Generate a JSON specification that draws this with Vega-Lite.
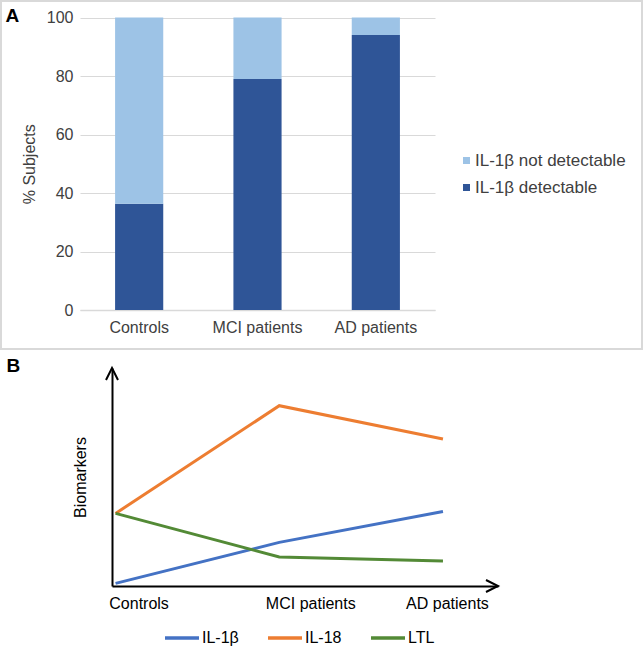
{
  "$schema": "https://vega.github.io/schema/vega-lite/v6.json",
  "padding": 0,
  "autosize": {"type": "pad"},
  "background": "white",
  "spacing": 0,
  "resolve": {"scale": {"color": "independent"}, "legend": {"color": "independent"}},
  "config": {
    "font": "Liberation Sans",
    "view": {"stroke": null},
    "concat": {"spacing": 0}
  },
  "vconcat": [
    {
      "width": 641,
      "height": 348,
      "view": {"stroke": "#d9d9d9", "strokeWidth": 2},
      "data": {"values": [
        {"group": "Controls", "status": "IL-1β detectable", "percent": 36.3},
        {"group": "Controls", "status": "IL-1β not detectable", "percent": 63.7},
        {"group": "MCI patients", "status": "IL-1β detectable", "percent": 79.0},
        {"group": "MCI patients", "status": "IL-1β not detectable", "percent": 21.0},
        {"group": "AD patients", "status": "IL-1β detectable", "percent": 94.0},
        {"group": "AD patients", "status": "IL-1β not detectable", "percent": 6.0}
      ]},
      "mark": {"type": "bar"},
      "encoding": {
        "x": {
          "field": "group", "type": "nominal",
          "sort": ["Controls", "MCI patients", "AD patients"],
          "scale": {"range": [79, 434], "paddingInner": 0.593, "paddingOuter": 0.2965},
          "axis": {"title": "A", "titleX": 4, "titleY": -288.3, "titleAlign": "left", "titleBaseline": "alphabetic", "titleAngle": 0, "titleFontSize": 19, "titleFontWeight": "bold", "titleColor": "black",
            "orient": "bottom", "offset": -39, "labelAngle": 0, "labelFontSize": 16, "labelColor": "#404040", "labelPadding": 9, "ticks": false, "domainColor": "#d9d9d9", "domainWidth": 1.5}
        },
        "y": {
          "field": "percent", "type": "quantitative", "stack": "zero",
          "scale": {"domain": [0, 100], "range": [309, 16.5], "nice": false},
          "axis": {"title": "% Subjects", "orient": "left", "offset": -79, "values": [0, 20, 40, 60, 80, 100], "domain": false, "ticks": false, "labelPadding": 7, "labelFontSize": 16, "labelColor": "#404040", "titleFontSize": 16, "titleFontWeight": "normal", "titleColor": "#404040", "titlePadding": 9, "grid": true, "gridColor": "#d9d9d9"}
        },
        "color": {
          "field": "status", "type": "nominal",
          "scale": {"domain": ["IL-1β not detectable", "IL-1β detectable"], "range": ["#9dc3e6", "#2f5597"]},
          "legend": {"title": null, "orient": "none", "legendX": 457, "legendY": 151, "symbolType": "square", "symbolSize": 49, "symbolStrokeWidth": 0, "labelFontSize": 17, "labelColor": "#404040", "labelOffset": 0, "rowPadding": 9}
        },
        "order": {"field": "status", "sort": "ascending"}
      }
    },
    {
      "width": 641,
      "height": 300,
      "resolve": {"scale": {"x": "independent"}},
      "layer": [
        {
          "data": {"values": [
            {"group": "Controls", "series": "IL-1β", "value": 1.2},
            {"group": "MCI patients", "series": "IL-1β", "value": 20.0},
            {"group": "AD patients", "series": "IL-1β", "value": 34.2},
            {"group": "Controls", "series": "IL-18", "value": 33.3},
            {"group": "MCI patients", "series": "IL-18", "value": 82.7},
            {"group": "AD patients", "series": "IL-18", "value": 67.4},
            {"group": "Controls", "series": "LTL", "value": 33.3},
            {"group": "MCI patients", "series": "LTL", "value": 13.3},
            {"group": "AD patients", "series": "LTL", "value": 11.5}
          ]},
          "mark": {"type": "line", "strokeWidth": 3},
          "encoding": {
            "x": {
              "field": "group", "type": "nominal",
              "sort": ["Controls", "MCI patients", "AD patients"],
              "scale": {"type": "point", "range": [111, 497], "padding": 0.179, "align": 0.061},
              "axis": {"title": "B", "titleX": 5, "titleY": -215, "titleAlign": "left", "titleBaseline": "alphabetic", "titleAngle": 0, "titleFontSize": 19, "titleFontWeight": "bold", "titleColor": "black",
                "orient": "bottom", "offset": -64, "labelAngle": 0, "labelFontSize": 16, "labelColor": "black", "labelPadding": 9, "ticks": false, "domainColor": "black", "domainWidth": 2,
                "labelOffset": {"condition": [{"test": "datum.value === 'Controls'", "value": 23}, {"test": "datum.value === 'MCI patients'", "value": 31}], "value": 4}}
            },
            "y": {
              "field": "value", "type": "quantitative",
              "scale": {"domain": [0, 100], "range": [236, 18], "nice": false, "zero": false},
              "axis": {"title": "Biomarkers", "orient": "left", "offset": -111, "domain": true, "domainColor": "black", "domainWidth": 2, "ticks": false, "labels": false, "grid": false, "titleFontSize": 16, "titleFontWeight": "normal", "titleColor": "black", "titlePadding": 24}
            },
            "color": {
              "field": "series", "type": "nominal",
              "scale": {"domain": ["IL-1β", "IL-18", "LTL"], "range": ["#4472c4", "#ed7d31", "#538a36"]},
              "legend": {"title": null, "orient": "none", "legendX": 162, "legendY": 269, "direction": "horizontal", "symbolType": "stroke", "symbolSize": 1156, "symbolStrokeWidth": 3.5, "labelFontSize": 16, "labelColor": "black", "labelOffset": 1, "columnPadding": 22}
            }
          }
        },
        {
          "layer": [
            {
              "data": {"values": [{}]},
              "mark": {"type": "point", "shape": "M-0.5,1L0,0L0.5,1", "size": 576, "filled": false, "color": "black", "strokeWidth": 2, "opacity": 1},
              "encoding": {
                "x": {"datum": 0, "type": "quantitative", "scale": {"domain": [0, 1], "range": [111, 497]}, "axis": null},
                "y": {"datum": 100, "type": "quantitative"}
              }
            },
            {
              "data": {"values": [{}]},
              "mark": {"type": "point", "shape": "M-1,-0.5L0,0L-1,0.5", "size": 576, "filled": false, "color": "black", "strokeWidth": 2, "opacity": 1},
              "encoding": {
                "x": {"datum": 1, "type": "quantitative", "axis": null},
                "y": {"datum": 0, "type": "quantitative"}
              }
            }
          ]
        }
      ]
    }
  ]
}
